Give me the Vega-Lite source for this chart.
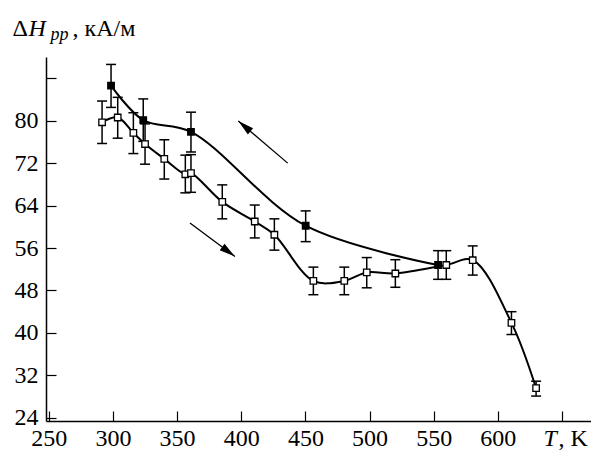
{
  "$schema": "https://vega.github.io/schema/vega-lite/v6.json",
  "width": 545,
  "height": 364,
  "autosize": "none",
  "padding": {"left": 46, "top": 57, "right": 0, "bottom": 29},
  "background": "white",
  "config": {
    "view": {"stroke": null},
    "font": "Liberation Serif",
    "axis": {
      "labelFont": "Liberation Serif",
      "titleFont": "Liberation Serif",
      "labelColor": "black",
      "titleColor": "black",
      "tickColor": "black",
      "domainColor": "black",
      "grid": false,
      "titleFontWeight": "normal",
      "labelFlush": false,
      "labelOverlap": false,
      "labelBound": false
    }
  },
  "datasets": {
    "pts": [
      {"series": "cooling", "T": 298.5, "H": 86.6, "lo": 82.5, "hi": 90.6},
      {"series": "cooling", "T": 323.6, "H": 80.1, "lo": 76.1, "hi": 84.1},
      {"series": "cooling", "T": 360.8, "H": 77.9, "lo": 74.1, "hi": 81.6},
      {"series": "cooling", "T": 450.2, "H": 60.2, "lo": 57.2, "hi": 63.0},
      {"series": "cooling", "T": 553.4, "H": 52.8, "lo": 50.1, "hi": 55.5},
      {"series": "heating", "T": 291.5, "H": 79.7, "lo": 75.7, "hi": 83.7},
      {"series": "heating", "T": 303.7, "H": 80.6, "lo": 76.7, "hi": 84.4},
      {"series": "heating", "T": 315.9, "H": 77.7, "lo": 73.8, "hi": 81.5},
      {"series": "heating", "T": 325.0, "H": 75.6, "lo": 71.8, "hi": 79.4},
      {"series": "heating", "T": 340.0, "H": 72.8, "lo": 69.0, "hi": 76.4},
      {"series": "heating", "T": 356.4, "H": 69.9, "lo": 66.4, "hi": 73.5},
      {"series": "heating", "T": 360.8, "H": 70.1, "lo": 66.5, "hi": 73.6},
      {"series": "heating", "T": 385.2, "H": 64.7, "lo": 61.5, "hi": 67.9},
      {"series": "heating", "T": 410.5, "H": 61.0, "lo": 57.9, "hi": 64.1},
      {"series": "heating", "T": 425.8, "H": 58.5, "lo": 55.6, "hi": 61.5},
      {"series": "heating", "T": 456.2, "H": 49.8, "lo": 47.2, "hi": 52.4},
      {"series": "heating", "T": 480.3, "H": 49.8, "lo": 47.2, "hi": 52.4},
      {"series": "heating", "T": 497.8, "H": 51.4, "lo": 48.5, "hi": 54.2},
      {"series": "heating", "T": 520.1, "H": 51.2, "lo": 48.6, "hi": 53.8},
      {"series": "heating", "T": 559.8, "H": 52.8, "lo": 50.1, "hi": 55.5},
      {"series": "heating", "T": 580.4, "H": 53.7, "lo": 50.9, "hi": 56.4},
      {"series": "heating", "T": 610.6, "H": 41.9, "lo": 39.7, "hi": 44.0},
      {"series": "heating", "T": 629.8, "H": 29.6, "lo": 28.1, "hi": 30.9}
    ],
    "arrows": [
      {"dir": "up", "x": 436.2, "y": 72.0, "x2": 397.7, "y2": 79.95},
      {"dir": "down", "x": 360.0, "y": 60.7, "x2": 395.1, "y2": 54.4}
    ]
  },
  "layer": [
    {
      "data": {"name": "pts"},
      "encoding": {
        "x": {
          "field": "T", "type": "quantitative",
          "scale": {"domain": [247.8, 672.6], "nice": false, "zero": false},
          "axis": {
            "values": [250, 300, 350, 400, 450, 500, 550, 600, 650],
            "labelExpr": "datum.value == 650 ? ', K' : datum.label",
            "labelAlign": {"condition": {"test": "datum.value == 650", "value": "left"}, "value": "center"},
            "labelOffset": {"condition": {"test": "datum.value == 650", "value": -4}, "value": 0},
            "labelFontSize": 24,
            "labelBaseline": "bottom",
            "labelPadding": 39,
            "tickSize": -10,
            "tickWidth": 1.2,
            "domainWidth": 1.5,
            "title": "T",
            "titleFontStyle": "italic",
            "titleFontSize": 24,
            "titleX": 497,
            "titleY": 29,
            "titleAlign": "left",
            "titleBaseline": "bottom"
          }
        },
        "y": {
          "field": "H", "type": "quantitative",
          "scale": {"domain": [23.4, 92], "nice": false, "zero": false},
          "axis": {
            "values": [24, 32, 40, 48, 56, 64, 72, 80, 88],
            "labelExpr": "datum.value == 88 ? '' : datum.label",
            "labelFontSize": 24,
            "labelPadding": 18,
            "tickSize": -10,
            "tickWidth": 1.2,
            "domainWidth": 1.5,
            "title": "Δ",
            "titleFontSize": 24,
            "titleAngle": 0,
            "titleX": -34,
            "titleY": -22,
            "titleAlign": "left",
            "titleBaseline": "alphabetic"
          }
        }
      },
      "layer": [
        {
          "mark": {"type": "line", "interpolate": "catmull-rom", "color": "black", "strokeWidth": 2},
          "encoding": {
            "detail": {"field": "series"}
          }
        },
        {
          "mark": {
            "type": "rule",
            "color": "black",
            "strokeWidth": 1.5
          },
          "encoding": {
            "y": {"field": "lo", "type": "quantitative", "title": "Δ"},
            "y2": {"field": "hi"}
          }
        },
        {
          "mark": {"type": "tick", "orient": "horizontal", "color": "black", "size": 10, "thickness": 1.5, "opacity": 1},
          "encoding": {
            "y": {"field": "lo", "type": "quantitative", "title": "Δ"}
          }
        },
        {
          "mark": {"type": "tick", "orient": "horizontal", "color": "black", "size": 10, "thickness": 1.5, "opacity": 1},
          "encoding": {
            "y": {"field": "hi", "type": "quantitative", "title": "Δ"}
          }
        },
        {
          "mark": {"type": "point", "shape": "square", "filled": true, "size": 42, "stroke": "black", "strokeWidth": 1.3, "opacity": 1},
          "encoding": {
            "fill": {"field": "series", "type": "nominal", "scale": {"domain": ["cooling", "heating"], "range": ["black", "white"]}, "legend": null}
          }
        }
      ]
    },
    {
      "data": {"name": "arrows"},
      "transform": [{"filter": "datum.dir == 'up'"}],
      "encoding": {
        "x": {
          "field": "x", "type": "quantitative",
          "scale": {"domain": [247.8, 672.6], "nice": false, "zero": false},
          "axis": {"orient": "top", "domain": false, "ticks": false, "labels": false, "title": "pp", "titleFontStyle": "italic", "titleFontSize": 18, "titleX": 4, "titleY": -17.7, "titleAlign": "left", "titleBaseline": "alphabetic"}
        },
        "y": {
          "field": "y", "type": "quantitative",
          "scale": {"domain": [23.4, 92], "nice": false, "zero": false},
          "axis": {"orient": "left", "domain": false, "ticks": false, "labels": false, "title": "H", "titleFontStyle": "italic", "titleFontSize": 24, "titleAngle": 0, "titleX": -18, "titleY": -22, "titleAlign": "left", "titleBaseline": "alphabetic"}
        }
      },
      "layer": [
        {
          "mark": {"type": "rule", "color": "black", "strokeWidth": 1.3},
          "encoding": {"x2": {"field": "x2"}, "y2": {"field": "y2"}}
        },
        {
          "mark": {"type": "point", "shape": "M0,0 L0.5,2 L-0.5,2 Z", "filled": true, "color": "black", "opacity": 1, "size": 256, "angle": 310.6},
          "encoding": {
            "x": {"field": "x2", "type": "quantitative"},
            "y": {"field": "y2", "type": "quantitative"}
          }
        }
      ]
    },
    {
      "data": {"name": "arrows"},
      "transform": [{"filter": "datum.dir == 'down'"}],
      "encoding": {
        "x": {
          "field": "x", "type": "quantitative",
          "scale": {"domain": [247.8, 672.6], "nice": false, "zero": false},
          "axis": null
        },
        "y": {
          "field": "y", "type": "quantitative",
          "scale": {"domain": [23.4, 92], "nice": false, "zero": false},
          "axis": {"orient": "left", "domain": false, "ticks": false, "labels": false, "title": ", кА/м", "titleFontSize": 24, "titleAngle": 0, "titleX": 26, "titleY": -22, "titleAlign": "left", "titleBaseline": "alphabetic"}
        }
      },
      "layer": [
        {
          "mark": {"type": "rule", "color": "black", "strokeWidth": 1.3},
          "encoding": {"x2": {"field": "x2"}, "y2": {"field": "y2"}}
        },
        {
          "mark": {"type": "point", "shape": "M0,0 L0.5,2 L-0.5,2 Z", "filled": true, "color": "black", "opacity": 1, "size": 256, "angle": 126.6},
          "encoding": {
            "x": {"field": "x2", "type": "quantitative"},
            "y": {"field": "y2", "type": "quantitative"}
          }
        }
      ]
    }
  ],
  "resolve": {"scale": {"x": "independent", "y": "independent"}, "axis": {"x": "independent", "y": "independent"}}
}
